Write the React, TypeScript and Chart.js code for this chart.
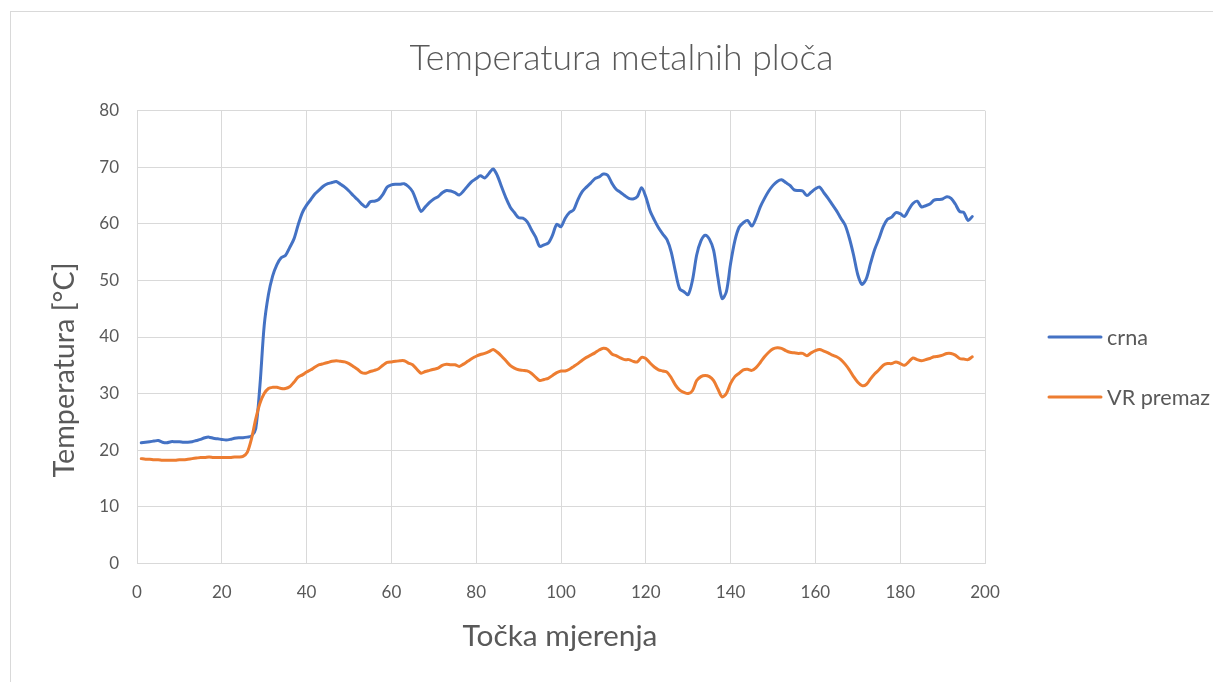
import React, { useEffect, useRef } from "react";
import { Chart, registerables } from "chart.js";

Chart.register(...registerables);

const TITLE = "Temperatura metalnih ploča";
const X_TITLE = "Točka mjerenja";
const Y_TITLE = "Temperatura [°C]";
const SERIES_NAMES = ["crna", "VR premaz"];
const SERIES_COLORS = ["#4472C4", "#ED7D31"];

const X_MIN = 0;
const X_MAX = 200;
const X_STEP = 20;
const Y_MIN = 0;
const Y_MAX = 80;
const Y_STEP = 10;

// measurement point index starts at 1
const FIRST_POINT = 1;

const crna = [
  21.3, 21.4, 21.5, 21.6, 21.7, 21.4, 21.3, 21.5, 21.5, 21.5,
  21.4, 21.4, 21.5, 21.7, 21.9, 22.2, 22.3, 22.1, 22.0, 21.9,
  21.8, 21.9, 22.1, 22.2, 22.2, 22.3, 22.5, 23.8, 31.5, 42.0,
  47.5, 50.8, 52.8, 54.0, 54.4, 55.8, 57.3, 59.8, 62.0, 63.3,
  64.3, 65.3, 66.0, 66.7, 67.1, 67.3, 67.5, 67.0, 66.5, 65.8,
  65.0, 64.3, 63.5, 63.0, 63.9, 64.0, 64.3, 65.2, 66.5, 66.9,
  67.0, 67.0, 67.1, 66.6, 65.7, 63.8, 62.2, 63.0, 63.8, 64.4,
  64.8, 65.5, 65.9, 65.8, 65.5, 65.1, 65.8, 66.7, 67.5, 68.0,
  68.5, 68.1, 68.9, 69.7, 68.5, 66.5, 64.6, 63.0, 62.0, 61.1,
  61.0, 60.4, 59.0, 57.7, 56.0, 56.3, 56.6, 58.0, 59.9, 59.5,
  61.0, 62.0, 62.5, 64.3, 65.7, 66.5, 67.2, 68.0, 68.3, 68.8,
  68.6, 67.2, 66.1, 65.6, 65.0, 64.5, 64.4, 64.8, 66.4, 64.8,
  62.3, 60.7, 59.3, 58.2, 57.2, 55.0, 51.5, 48.5, 48.0, 47.5,
  50.0, 54.5, 57.0, 58.0, 57.3, 55.3, 50.5, 46.8, 48.0, 53.0,
  57.0, 59.4, 60.2, 60.6, 59.6, 61.0, 63.0, 64.5, 65.8, 66.8,
  67.5, 67.8, 67.3, 66.8, 66.0, 65.9, 65.8, 65.0, 65.6, 66.2,
  66.5, 65.5, 64.5, 63.4, 62.3, 61.0, 59.8, 57.5, 54.5, 51.0,
  49.3, 50.3, 53.0, 55.5, 57.4, 59.5, 60.8, 61.2, 62.0, 61.8,
  61.3, 62.5, 63.6, 64.0, 63.0, 63.2, 63.5, 64.2, 64.3, 64.4,
  64.8, 64.5, 63.5, 62.2, 62.0, 60.6, 61.3,
];

const vrPremaz = [
  18.5, 18.4, 18.4, 18.3, 18.3, 18.2, 18.2, 18.2, 18.2, 18.3,
  18.3, 18.4, 18.5, 18.6, 18.7, 18.7, 18.8, 18.7, 18.7, 18.7,
  18.7, 18.7, 18.8, 18.8, 18.9, 19.6, 22.0, 25.5, 28.3, 30.0,
  30.9, 31.1, 31.1, 30.9, 30.9, 31.2, 32.0, 32.9, 33.3, 33.8,
  34.2, 34.7, 35.1, 35.3, 35.5, 35.7, 35.8, 35.7, 35.6, 35.3,
  34.8, 34.3, 33.7, 33.6, 33.9, 34.1, 34.4, 35.0, 35.5, 35.6,
  35.7, 35.8, 35.8, 35.4, 35.1, 34.3, 33.6, 33.9, 34.1, 34.3,
  34.5, 35.0, 35.2, 35.1, 35.1, 34.8, 35.2, 35.7, 36.2, 36.6,
  36.9, 37.1, 37.4, 37.8, 37.3, 36.6, 35.8, 35.0, 34.5, 34.2,
  34.1, 34.0, 33.6, 32.9, 32.3, 32.5, 32.7, 33.2, 33.7, 34.0,
  34.0, 34.3, 34.8, 35.3, 35.9, 36.4, 36.8, 37.2, 37.7, 38.0,
  37.8, 37.0, 36.7, 36.3, 36.0, 36.0, 35.7, 35.6, 36.4, 36.2,
  35.4, 34.7, 34.2, 34.0, 33.8, 32.8, 31.5, 30.6, 30.2, 30.0,
  30.5, 32.3, 33.0, 33.2, 33.0, 32.3, 30.8, 29.4, 30.0, 31.8,
  33.0, 33.6, 34.2, 34.3, 34.1, 34.6, 35.5, 36.5, 37.3, 37.9,
  38.1, 38.0, 37.6, 37.3, 37.2, 37.1, 37.1, 36.7, 37.2, 37.6,
  37.8, 37.5, 37.2, 36.8, 36.5, 36.0, 35.2, 34.2, 33.0, 32.0,
  31.4, 31.6, 32.6, 33.5, 34.2, 35.0, 35.3, 35.3, 35.6, 35.3,
  35.0, 35.6, 36.3, 36.0, 35.8, 36.0, 36.2, 36.5, 36.6, 36.8,
  37.1, 37.1, 36.8, 36.2, 36.1, 36.0, 36.5,
];

const toPoints = (vals: number[]) => vals.map((y, i) => ({ x: FIRST_POINT + i, y }));

const TEXT_COLOR = "#595959";
const GRID_COLOR = "#d9d9d9";
const FONT = "Lato, 'Open Sans', sans-serif";

const CANVAS_W = 1239;
const CANVAS_H = 670;

const textPlugin = {
  id: "customTexts",
  afterDraw(chart: any) {
    const ctx: CanvasRenderingContext2D = chart.ctx;
    const fitSize = (text: string, target: number, weight: string) => {
      ctx.font = `${weight} 20px ${FONT}`;
      const w = ctx.measureText(text).width;
      return (20 * target) / w;
    };
    ctx.save();
    ctx.fillStyle = TEXT_COLOR;
    ctx.textBaseline = "middle";

    // title
    let s = fitSize(TITLE, 424, "300");
    ctx.font = `300 ${s}px ${FONT}`;
    ctx.textAlign = "center";
    ctx.fillText(TITLE, 610.5, 47);

    // x axis title
    s = fitSize(X_TITLE, 195, "400");
    ctx.font = `400 ${s}px ${FONT}`;
    ctx.fillText(X_TITLE, 549, 624);

    // y axis title
    s = fitSize(Y_TITLE, 215, "400");
    ctx.save();
    ctx.translate(54, 358);
    ctx.rotate(-Math.PI / 2);
    ctx.font = `400 ${s}px ${FONT}`;
    ctx.fillText(Y_TITLE, 0, 0);
    ctx.restore();

    // legend
    s = fitSize(SERIES_NAMES[1], 103, "400");
    const legendY = [325, 385];
    SERIES_NAMES.forEach((name, i) => {
      ctx.strokeStyle = SERIES_COLORS[i];
      ctx.lineWidth = 3;
      ctx.lineCap = "round";
      ctx.beginPath();
      ctx.moveTo(1038, legendY[i]);
      ctx.lineTo(1090, legendY[i]);
      ctx.stroke();
      ctx.font = `400 ${s}px ${FONT}`;
      ctx.textAlign = "left";
      ctx.fillStyle = TEXT_COLOR;
      ctx.fillText(name, 1096, legendY[i] + 1);
    });
    ctx.restore();
  },
};

export default function App() {
  const ref = useRef<HTMLCanvasElement | null>(null);

  useEffect(() => {
    document.body.style.overflow = "hidden";
    const canvas = ref.current;
    if (!canvas) return;
    const chart = new Chart(canvas, {
      type: "line",
      data: {
        datasets: [
          {
            label: SERIES_NAMES[0],
            data: toPoints(crna),
            borderColor: SERIES_COLORS[0],
            backgroundColor: SERIES_COLORS[0],
            borderWidth: 3,
            pointRadius: 0,
            tension: 0.3,
            borderCapStyle: "round",
            borderJoinStyle: "round",
            order: 1,
          },
          {
            label: SERIES_NAMES[1],
            data: toPoints(vrPremaz),
            borderColor: SERIES_COLORS[1],
            backgroundColor: SERIES_COLORS[1],
            borderWidth: 3,
            pointRadius: 0,
            tension: 0.3,
            borderCapStyle: "round",
            borderJoinStyle: "round",
            order: 0,
          },
        ],
      },
      options: {
        animation: false,
        responsive: false,
        maintainAspectRatio: false,
        layout: { padding: { top: 98.7, left: 0, right: CANVAS_W - 974, bottom: 10 } },
        plugins: {
          legend: { display: false },
          title: { display: false },
          tooltip: { enabled: false },
        },
        scales: {
          x: {
            type: "linear",
            min: X_MIN,
            max: X_MAX,
            afterFit: (scale: any) => {
              scale.height = CANVAS_H - 10 - 551.3;
            },
            ticks: {
              stepSize: X_STEP,
              color: TEXT_COLOR,
              font: { family: FONT, size: 17 },
              padding: 19,
              maxRotation: 0,
            },
            grid: { color: GRID_COLOR, lineWidth: 1, drawTicks: false },
            border: { color: GRID_COLOR },
          },
          y: {
            min: Y_MIN,
            max: Y_MAX,
            afterFit: (scale: any) => {
              scale.width = 126;
            },
            ticks: {
              stepSize: Y_STEP,
              color: TEXT_COLOR,
              font: { family: FONT, size: 17 },
              padding: 18,
            },
            grid: { color: GRID_COLOR, lineWidth: 1, drawTicks: false },
            border: { color: GRID_COLOR },
          },
        },
      },
      plugins: [textPlugin],
    });
    return () => chart.destroy();
  }, []);

  return (
    <div
      style={{
        position: "relative",
        left: 2,
        top: 3,
        width: 1240,
        height: 700,
        border: "1px solid #d9d9d9",
        background: "#fff",
      }}
    >
      <canvas ref={ref} width={CANVAS_W} height={CANVAS_H} style={{ display: "block" }} />
    </div>
  );
}
